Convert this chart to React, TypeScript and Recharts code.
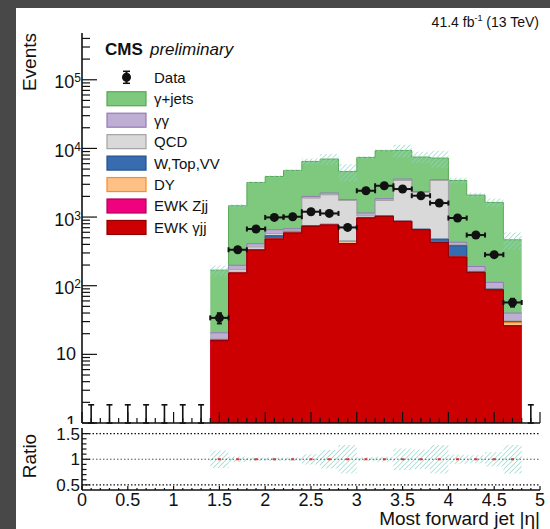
import { Area, ComposedChart, ErrorBar, ReferenceLine, Scatter, XAxis, YAxis } from 'recharts'

// 17 bins of |eta| from 1.4 to 4.8
const BIN_EDGES = [1.4, 1.6, 1.8, 2.0, 2.2, 2.4, 2.6, 2.8, 3.0, 3.2, 3.4, 3.6, 3.8, 4.0, 4.2, 4.4, 4.6, 4.8]

// expected yields per bin, bottom of the stack first
const EWK_GJJ = [15.8, 153, 331, 478, 585, 730, 765, 409, 968, 1021, 863, 654, 427, 262, 156, 87, 26]
const EWK_ZJJ = [0.1, 0.4, 0.8, 1.2, 1.3, 1.4, 1.4, 0.9, 1.6, 1.7, 1.5, 1.2, 0.9, 0.6, 0.4, 0.2, 0.1]
const DY = [0.2, 1, 2.5, 5, 4, 2, 2, 31, 1.5, 2, 2, 3, 2, 2.5, 0.8, 0.8, 2.8]
const W_TOP_VV = [0.2, 2, 3, 51, 15, 17, 17, 4, 10, 16, 9, 10, 48, 117, 2, 1, 1]
const QCD = [0.4, 15, 29, 40, 27, 1140, 1325, 1301, 60, 706, 2540, 1617, 2937, 13, 4, 2, 1]
const GAMMA_GAMMA = [3.9, 27, 43, 79, 44, 110, 130, 60, 105, 104, 165, 75, 85, 35, 27, 21, 9]
const GAMMA_JETS = [148, 1262, 2781, 3246, 4104, 4460, 4760, 2814, 6245, 7400, 5760, 5130, 3740, 2985, 1900, 1521, 427]

// relative uncertainty of the total prediction
const MC_UNC = [0.17, 0.055, 0.036, 0.032, 0.032, 0.1, 0.18, 0.28, 0.04, 0.05, 0.21, 0.19, 0.28, 0.09, 0.08, 0.14, 0.28]

const DATA = [34, 334, 670, 988, 1011, 1196, 1129, 706, 2417, 2858, 2559, 2046, 1600, 968, 547, 283, 57]
const DATA_ERR = [5.8, 18.3, 25.9, 31.4, 31.8, 34.6, 33.6, 26.6, 49.2, 53.5, 50.6, 45.2, 40, 31.1, 23.4, 16.8, 7.5]

// empty bins: only the upper Poisson error is drawn
const ZERO_BIN_CENTERS = [0.1, 0.3, 0.5, 0.7, 0.9, 1.1, 1.3, 4.9]
const ZERO_BIN_UP = 0.84

const X_TICK_LABELS = ['0', '0.5', '1', '1.5', '2', '2.5', '3', '3.5', '4', '4.5', '5']
const Y_DECADES = [1, 10, 100, 1000, 10000, 100000]
const RATIO_TICKS = [0.5, 0.6, 0.7, 0.8, 0.9, 1, 1.1, 1.2, 1.3, 1.4, 1.5]
const RATIO_LABELS = ['0.5', '1', '1.5']

const INK = '#111'
const HATCH = '#8dd3c7'
const FRAME_DARK = '#484848'
const FONT = '"Liberation Sans", Arial, Helvetica, sans-serif'

const LAYERS = [
  { name: 'EWK γjj', values: EWK_GJJ, fill: '#cc0000', stroke: '#8f0000' },
  { name: 'EWK Zjj', values: EWK_ZJJ, fill: '#f0027f', stroke: '#b0005c' },
  { name: 'DY', values: DY, fill: '#fdc086', stroke: '#ff8a1f' },
  { name: 'W,Top,VV', values: W_TOP_VV, fill: '#386cb0', stroke: '#24508a' },
  { name: 'QCD', values: QCD, fill: '#d9d9d9', stroke: '#a3a3a3' },
  { name: 'γγ', values: GAMMA_GAMMA, fill: '#beaed4', stroke: '#9479b8' },
  { name: 'γ+jets', values: GAMMA_JETS, fill: '#7fc97f', stroke: '#55a855' },
]

const NBINS = BIN_EDGES.length - 1

// step rows at the bin edges, cumulative sums for the stack
const histRows = BIN_EDGES.map((x, i) => {
  const b = Math.min(i, NBINS - 1)
  const row: Record<string, any> = { x }
  let sum = 0
  LAYERS.forEach((l, j) => {
    sum += l.values[b]
    row[`s${j}`] = sum
  })
  const u = MC_UNC[b]
  row.band = [sum * (1 - u), sum * (1 + u)]
  row.ratioBand = [1 - u, 1 + u]
  return row
})

const centers = DATA.map((_, i) => (BIN_EDGES[i] + BIN_EDGES[i + 1]) / 2)
const dataRows = DATA.map((y, i) => ({
  x: centers[i],
  y,
  ex: (BIN_EDGES[i + 1] - BIN_EDGES[i]) / 2,
  ey: DATA_ERR[i],
}))
const zeroRows = ZERO_BIN_CENTERS.map((x) => ({ x, y: 1, ey: [0, ZERO_BIN_UP] }))
const ratioRows = centers.map((x) => ({ x, y: 1 }))

const X_TICKS = Array.from({ length: 51 }, (_, i) => i / 10)
const Y_TICKS: number[] = []
Y_DECADES.forEach((d) => {
  for (let k = 1; k <= 9; k++) if (d * k <= 480000) Y_TICKS.push(d * k)
})

const isHalf = (v: number) => Math.abs(v * 2 - Math.round(v * 2)) < 1e-6

function MainXTick({ x, y, payload }: any) {
  const len = isHalf(payload.value) ? 11 : 5
  return <line x1={x} x2={x} y1={y} y2={y - len} stroke={INK} strokeWidth={1.2} />
}

function MainYTick({ x, y, payload }: any) {
  const v = payload.value as number
  const lg = Math.log10(v)
  const e = Math.round(lg)
  const major = Math.abs(lg - e) < 1e-9
  return (
    <g>
      <line x1={x} x2={x + (major ? 15 : 8)} y1={y} y2={y} stroke={INK} strokeWidth={1.2} />
      {major && e < 2 && (
        <text x={x - 6} y={y + 6} textAnchor="end" fontSize={18} fill={INK} fontFamily={FONT}>
          {String(v)}
        </text>
      )}
      {major && e >= 2 && (
        <text x={x - 1} y={y + 8.5} textAnchor="end" fontSize={18} fill={INK} fontFamily={FONT}>
          10<tspan dy={-6} fontSize={12}>{e}</tspan>
        </text>
      )}
    </g>
  )
}

function RatioXTick({ x, y, payload }: any) {
  const v = payload.value as number
  const major = isHalf(v)
  return (
    <g>
      <line x1={x} x2={x} y1={y} y2={y - (major ? 4 : 2)} stroke={INK} strokeWidth={1.2} />
      {major && (
        <text x={x} y={y + 16} textAnchor="middle" fontSize={18} fill={INK} fontFamily={FONT}>
          {X_TICK_LABELS[Math.round(v * 2)]}
        </text>
      )}
    </g>
  )
}

function RatioYTick({ x, y, payload }: any) {
  const v = payload.value as number
  const major = isHalf(v)
  return (
    <g>
      <line x1={x} x2={x + (major ? 8 : 4.5)} y1={y} y2={y} stroke={INK} strokeWidth={1.2} />
      {major && (
        <text x={x - 2} y={y + 6} textAnchor="end" fontSize={17} fill={INK} fontFamily={FONT}>
          {RATIO_LABELS[Math.round((v - 0.5) * 2)]}
        </text>
      )}
    </g>
  )
}

const hatchDef = (id: string) => (
  <defs>
    <pattern id={id} patternUnits="userSpaceOnUse" width={3.5} height={3.5} patternTransform="rotate(45)">
      <line x1={0} y1={0} x2={0} y2={3.5} stroke={HATCH} strokeWidth={1.3} />
    </pattern>
  </defs>
)

const frameAxis = { stroke: INK, strokeWidth: 1.6 }

// main pad geometry, shared by the histogram layer and the axes drawn on top of it
const MAIN_W = 550
const MAIN_H = 424
const MAIN_MARGIN = { top: 33, right: 10, bottom: 0, left: 0 }

function mainAxes(show: boolean) {
  return [
    <XAxis
      key="x"
      dataKey="x"
      type="number"
      domain={[0, 5]}
      ticks={X_TICKS}
      interval={0}
      allowDataOverflow
      height={1}
      tickSize={0}
      tickMargin={0}
      tickLine={false}
      tick={show ? (p: any) => <MainXTick {...p} /> : false}
      axisLine={show ? frameAxis : false}
    />,
    <XAxis
      key="xt"
      xAxisId="top"
      orientation="top"
      type="number"
      domain={[0, 5]}
      height={0}
      tick={false}
      tickLine={false}
      axisLine={show ? frameAxis : false}
    />,
    <YAxis
      key="y"
      scale="log"
      type="number"
      domain={[1, 480000]}
      ticks={Y_TICKS}
      interval={0}
      allowDataOverflow
      width={82}
      tickSize={0}
      tickMargin={0}
      tickLine={false}
      tick={show ? (p: any) => <MainYTick {...p} /> : false}
      axisLine={show ? frameAxis : false}
    />,
    <YAxis
      key="yr"
      yAxisId="right"
      orientation="right"
      width={0}
      tick={false}
      tickLine={false}
      axisLine={show ? frameAxis : false}
    />,
  ]
}

function LegendOverlay() {
  const x0 = 107
  const y0 = 77.3
  const dy = 21.45
  const rows = [...LAYERS].reverse()
  return (
    <svg
      width={550}
      height={529}
      style={{ position: 'absolute', left: 0, top: 0, pointerEvents: 'none' }}
      fontFamily={FONT}
      fill={INK}
    >
      <text x={105} y={55} fontSize={17} fontWeight="bold">CMS</text>
      <text x={150} y={55} fontSize={17} fontStyle="italic">preliminary</text>
      <text x={539} y={27} fontSize={14} textAnchor="end">
        41.4 fb<tspan dy={-6} fontSize={9}>-1</tspan>
        <tspan dy={6}> (13 TeV)</tspan>
      </text>

      <circle cx={x0 + 19.5} cy={y0} r={4.5} fill={INK} />
      <line x1={x0 + 19.5} x2={x0 + 19.5} y1={y0 - 6} y2={y0 + 6} stroke={INK} strokeWidth={2} />
      <line x1={x0 + 16} x2={x0 + 23} y1={y0 - 6} y2={y0 - 6} stroke={INK} strokeWidth={1.5} />
      <line x1={x0 + 16} x2={x0 + 23} y1={y0 + 6} y2={y0 + 6} stroke={INK} strokeWidth={1.5} />
      <text x={154} y={y0 + 5.4} fontSize={15}>Data</text>
      {rows.map((l, i) => {
        const yc = y0 + (i + 1) * dy
        return (
          <g key={l.name}>
            <rect x={x0} y={yc - 7} width={39} height={14} fill={l.fill} stroke={l.stroke} strokeWidth={1.2} />
            <text x={154} y={yc + 5.4} fontSize={15}>{l.name}</text>
          </g>
        )
      })}

      <text transform="translate(36, 33) rotate(-90)" textAnchor="end" fontSize={19}>Events</text>
      <text transform="translate(36, 456) rotate(-90)" textAnchor="middle" fontSize={19}>Ratio</text>
      <text x={540} y={525} textAnchor="end" fontSize={19}>Most forward jet |η|</text>
    </svg>
  )
}

export default function App() {
  return (
    <div
      style={{
        position: 'absolute',
        left: 0,
        top: 0,
        width: 550,
        height: 529,
        background: '#fff',
        overflow: 'hidden',
        fontFamily: FONT,
      }}
    >
      <div style={{ position: 'absolute', left: 0, top: 0, width: 550, height: 8, background: FRAME_DARK }} />
      <div style={{ position: 'absolute', left: 0, top: 0, width: 16, height: 529, background: FRAME_DARK }} />

      <div style={{ position: 'absolute', left: 0, top: 0 }}>
        <ComposedChart width={MAIN_W} height={MAIN_H} data={histRows} margin={MAIN_MARGIN}>
          {hatchDef('hatchMain')}
          {mainAxes(false)}
          {LAYERS.map((l, j) => ({ l, j }))
            .reverse()
            .map(({ l, j }) => (
              <Area
                key={l.name}
                dataKey={`s${j}`}
                type="stepAfter"
                baseValue={1}
                fill={l.fill}
                fillOpacity={1}
                stroke={l.stroke}
                strokeWidth={1}
                dot={false}
                activeDot={false}
                isAnimationActive={false}
              />
            ))}
          <Area
            dataKey="band"
            type="stepAfter"
            fill="url(#hatchMain)"
            fillOpacity={1}
            stroke="none"
            dot={false}
            activeDot={false}
            isAnimationActive={false}
          />
          <Scatter data={zeroRows} dataKey="y" shape={() => <g />} isAnimationActive={false}>
            <ErrorBar dataKey="ey" direction="y" width={3} stroke={INK} strokeWidth={1.6} />
          </Scatter>
          <Scatter
            data={dataRows}
            dataKey="y"
            isAnimationActive={false}
            shape={(p: any) => <circle cx={p.cx} cy={p.cy} r={4.5} fill={INK} />}
          >
            <ErrorBar dataKey="ex" direction="x" width={2.5} stroke={INK} strokeWidth={2} />
            <ErrorBar dataKey="ey" direction="y" width={2.5} stroke={INK} strokeWidth={2} />
          </Scatter>
        </ComposedChart>
      </div>

      {/* frame and ticks drawn over the filled histograms */}
      <div style={{ position: 'absolute', left: 0, top: 0, pointerEvents: 'none' }}>
        <ComposedChart width={MAIN_W} height={MAIN_H} data={histRows} margin={MAIN_MARGIN}>
          {mainAxes(true)}
        </ComposedChart>
      </div>

      <div style={{ position: 'absolute', left: 0, top: 428 }}>
        <ComposedChart width={550} height={101} data={histRows} margin={{ top: 0, right: 10, bottom: 0, left: 0 }}>
          {hatchDef('hatchRatio')}
          <XAxis
            dataKey="x"
            type="number"
            domain={[0, 5]}
            ticks={X_TICKS}
            interval={0}
            allowDataOverflow
            height={39}
            tickSize={0}
            tickMargin={0}
            tickLine={false}
            tick={(p: any) => <RatioXTick {...p} />}
            axisLine={frameAxis}
          />
          <XAxis xAxisId="top" orientation="top" type="number" domain={[0, 5]} height={0} tick={false} tickLine={false} axisLine={frameAxis} />
          <YAxis
            type="number"
            domain={[0.4, 1.61]}
            ticks={RATIO_TICKS}
            interval={0}
            allowDataOverflow
            width={82}
            tickSize={0}
            tickMargin={0}
            tickLine={false}
            tick={(p: any) => <RatioYTick {...p} />}
            axisLine={frameAxis}
          />
          <YAxis yAxisId="right" orientation="right" width={0} tick={false} tickLine={false} axisLine={frameAxis} />
          <ReferenceLine y={1.5} stroke={INK} strokeDasharray="1.5 2" strokeWidth={1.2} />
          <ReferenceLine y={0.5} stroke={INK} strokeDasharray="1.5 2" strokeWidth={1.2} />
          <Area
            dataKey="ratioBand"
            type="stepAfter"
            fill="url(#hatchRatio)"
            fillOpacity={1}
            stroke="none"
            dot={false}
            activeDot={false}
            isAnimationActive={false}
          />
          <ReferenceLine y={1} stroke="#3f5f58" strokeDasharray="1.5 2" strokeWidth={1.2} />
          <Scatter
            data={ratioRows}
            dataKey="y"
            isAnimationActive={false}
            shape={(p: any) => <rect x={p.cx - 1.5} y={p.cy - 1} width={3} height={2} fill="#e03030" />}
          />
        </ComposedChart>
      </div>

      <LegendOverlay />
    </div>
  )
}
